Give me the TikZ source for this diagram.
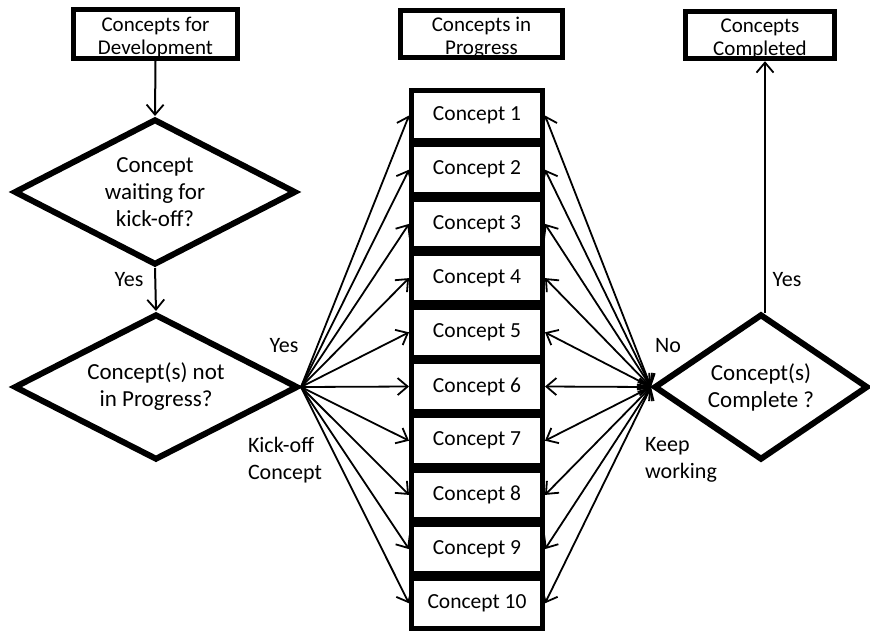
\documentclass[tikz,border=0pt]{standalone}
\usepackage{fontspec}
\setmainfont{Carlito}
\usetikzlibrary{shapes.geometric,arrows.meta}
\newcommand{\toppad}{\rule{0pt}{21pt}}
\begin{document}
\begin{tikzpicture}[x=1pt,y=-1pt,
  titlebox/.style={draw, line width=5pt, inner sep=0pt, align=center,
    font=\fontsize{21}{23}\selectfont},
  conceptbox/.style={draw, line width=5pt, minimum width=131pt,
    minimum height=49.5pt, inner sep=0pt, font=\fontsize{21.5}{25}\selectfont},
  decision/.style={diamond, draw, line width=6pt, inner sep=0pt,
    align=center, font=\fontsize{23}{27}\selectfont},
  barb/.tip={Straight Barb[length=10pt,width=17pt,line width=1.8pt]},
  flow/.style={line width=2pt, -barb},
  fanout/.style={line width=1.8pt, -barb},
  fanback/.style={line width=1.8pt, barb-barb},
  lbl/.style={font=\fontsize{22}{27}\selectfont, align=left, inner sep=0pt}
]
\useasboundingbox (0,0) rectangle (870,630);

% column headers
\node[titlebox, minimum width=164pt, minimum height=49pt] (dev) at (155.5,34) {\toppad Concepts for\\Development};
\node[titlebox, minimum width=162pt, minimum height=47pt] (prog) at (481.5,34) {\toppad Concepts in\\Progress};
\node[titlebox, minimum width=149pt, minimum height=47pt] (done) at (760,35) {\toppad Concepts\\Completed};

% decisions
\node[decision, shape aspect=1.91, minimum width=282pt, minimum height=146pt] (wait) at (155,192) {Concept\\waiting for\\kick-off?};
\node[decision, shape aspect=1.91, minimum width=284pt, minimum height=146pt] (notprog) at (156,387) {Concept(s) not\\in Progress?};
\node[decision, shape aspect=1.46, minimum width=214pt, minimum height=146pt] (complete) at (761,387) {Concept(s)\\Complete ?};

% concepts being worked on
\foreach \i in {1,...,10}
  \node[conceptbox] (c\i) at (477,{115.5+(\i-1)*54.2}) {Concept \i};

% main flow
\draw[flow] (dev.south) -- (wait.north);
\draw[flow] (wait.south) -- (notprog.north);
\coordinate (donefoot) at (765,313);
\draw[flow] (donefoot) -- (donefoot |- done.south);

% kick-off fan and keep-working fan
\foreach \i in {1,...,10} {
  \draw[fanout] (notprog.east) -- (c\i.west);
  \draw[fanback] (c\i.east) -- (complete.west);
}

% labels
\node[lbl] (yes1) at (129,280) {Yes};
\node[lbl] (yes2) at (284,346) {Yes};
\node[lbl] (kick) at (285,460) {Kick-off\\Concept};
\node[lbl] (no) at (668,346) {No};
\node[lbl] (keep) at (681,460) {Keep\\working};
\node[lbl] (yes3) at (787,280) {Yes};
\end{tikzpicture}
\end{document}
